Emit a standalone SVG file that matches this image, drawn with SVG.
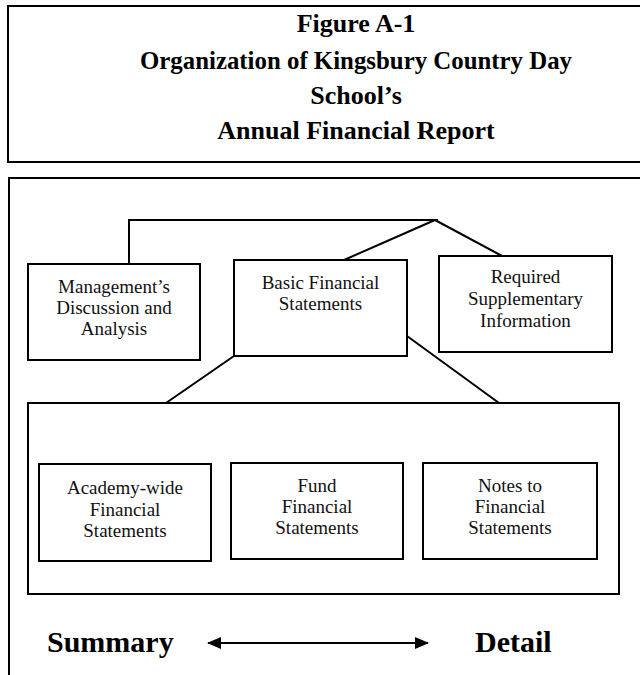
<svg xmlns="http://www.w3.org/2000/svg" width="640" height="675" viewBox="0 0 640 675">
  <style>
    .frame { fill: #fff; stroke: #000; stroke-width: 2; }
    .box { fill: #fff; stroke: #000; stroke-width: 2; }
    .wire { fill: none; stroke: #000; stroke-width: 2; }
    .title { font-family: "Liberation Serif", "DejaVu Serif", serif; font-weight: bold; font-size: 26px; fill: #000; text-anchor: middle; }
    .lbl { font-family: "Liberation Serif", "DejaVu Serif", serif; font-size: 19px; fill: #111; text-anchor: middle; }
    .axis { font-family: "Liberation Serif", "DejaVu Serif", serif; font-weight: bold; font-size: 30px; fill: #000; }
  </style>
  <defs>
    <marker id="tip" viewBox="0 0 14 12" refX="13" refY="6" markerWidth="14" markerHeight="12" markerUnits="userSpaceOnUse" orient="auto-start-reverse">
      <path d="M0,0 L14,6 L0,12 Z" fill="#000"/>
    </marker>
  </defs>
  <rect width="640" height="675" fill="#fff"/>

  <!-- heading panel -->
  <g id="heading">
    <rect class="frame" x="8" y="6" width="700" height="156"/>
    <text class="title" x="356" y="32">Figure A-1</text>
    <text class="title" x="356" y="69" textLength="432" lengthAdjust="spacingAndGlyphs">Organization of Kingsbury Country Day</text>
    <text class="title" x="356" y="104">School’s</text>
    <text class="title" x="356" y="139">Annual Financial Report</text>
  </g>

  <!-- chart panel -->
  <g id="panel">
    <rect class="frame" x="9" y="178" width="700" height="560"/>
  </g>

  <!-- connectors -->
  <g id="connectors">
    <polyline class="wire" points="129,264 129,220 438,220"/>
    <line class="wire" x1="435" y1="220" x2="344" y2="260"/>
    <line class="wire" x1="435" y1="220" x2="502" y2="256"/>
    <line class="wire" x1="234" y1="356" x2="166" y2="403"/>
    <line class="wire" x1="407" y1="336" x2="499" y2="403"/>
    <polyline class="wire" points="233,421 534,421 534,463"/>
    <line class="wire" x1="233" y1="421" x2="131" y2="464"/>
    <line class="wire" x1="233" y1="421" x2="328" y2="463"/>
    <line class="wire" x1="208" y1="643" x2="428" y2="643" marker-start="url(#tip)" marker-end="url(#tip)"/>
  </g>

  <g id="mda">
    <rect class="box" x="28" y="264" width="172" height="96"/>
    <text class="lbl" x="114" y="293">Management’s</text>
    <text class="lbl" x="114" y="314">Discussion and</text>
    <text class="lbl" x="114" y="335">Analysis</text>
  </g>

  <g id="basic">
    <rect class="box" x="234" y="260" width="173" height="96"/>
    <text class="lbl" x="320.5" y="289">Basic Financial</text>
    <text class="lbl" x="320.5" y="310">Statements</text>
  </g>

  <g id="rsi">
    <rect class="box" x="439" y="256" width="173" height="96"/>
    <text class="lbl" x="525.5" y="283">Required</text>
    <text class="lbl" x="525.5" y="305">Supplementary</text>
    <text class="lbl" x="525.5" y="327">Information</text>
  </g>

  <g id="statements">
    <rect class="box" x="28" y="403" width="591" height="191"/>
  </g>

  <g id="academy">
    <rect class="box" x="39" y="464" width="172" height="97"/>
    <text class="lbl" x="125" y="494">Academy-wide</text>
    <text class="lbl" x="125" y="516">Financial</text>
    <text class="lbl" x="125" y="537">Statements</text>
  </g>

  <g id="fund">
    <rect class="box" x="231" y="463" width="172" height="96"/>
    <text class="lbl" x="317" y="492">Fund</text>
    <text class="lbl" x="317" y="513">Financial</text>
    <text class="lbl" x="317" y="534">Statements</text>
  </g>

  <g id="notes">
    <rect class="box" x="423" y="463" width="174" height="96"/>
    <text class="lbl" x="510" y="492">Notes to</text>
    <text class="lbl" x="510" y="513">Financial</text>
    <text class="lbl" x="510" y="534">Statements</text>
  </g>

  <g id="scale">
    <text class="axis" x="47" y="652">Summary</text>
    <text class="axis" x="475" y="652">Detail</text>
  </g>
</svg>
